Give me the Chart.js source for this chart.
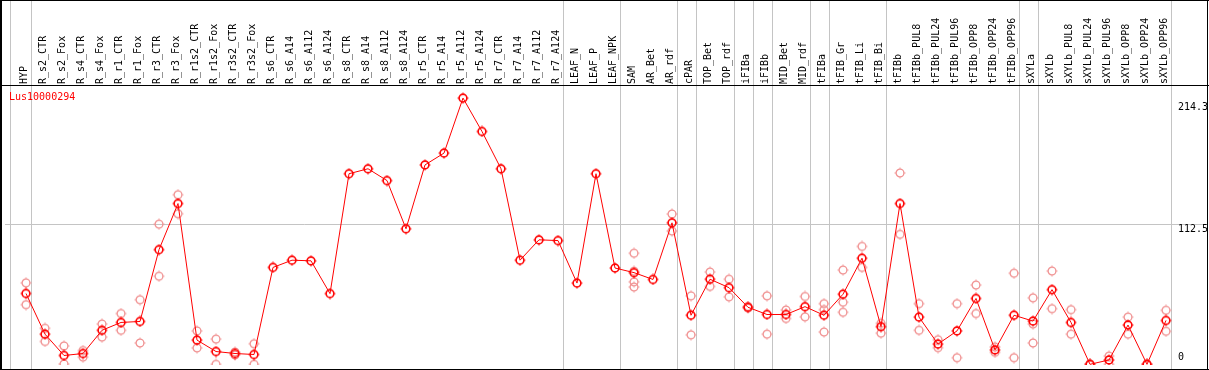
<!DOCTYPE html>
<html>
<head>
<meta charset="utf-8">
<script src="https://cdn.jsdelivr.net/npm/chart.js@4.4.1/dist/chart.umd.min.js"></script>
<style>
body{margin:0;background:#fff}
canvas{display:block}
</style>
</head>
<body>
<canvas id="geneChart" width="1209" height="370"></canvas>
<script>
// ------------------------------------
// DATA
// ------------------------------------

const geneName = "Lus10000294"

const samples = [
"HYP",
"R_s2_CTR","R_s2_Fox","R_s4_CTR","R_s4_Fox","R_r1_CTR","R_r1_Fox","R_r3_CTR","R_r3_Fox",
"R_r1s2_CTR","R_r1s2_Fox","R_r3s2_CTR","R_r3s2_Fox",
"R_s6_CTR","R_s6_A14","R_s6_A112","R_s6_A124","R_s8_CTR","R_s8_A14","R_s8_A112","R_s8_A124",
"R_r5_CTR","R_r5_A14","R_r5_A112","R_r5_A124","R_r7_CTR","R_r7_A14","R_r7_A112","R_r7_A124",
"LEAF_N","LEAF_P","LEAF_NPK",
"SAM","AR_Bet","AR_rdf",
"cPAR",
"TOP_Bet","TOP_rdf",
"iFIBa",
"iFIBb",
"MID_Bet","MID_rdf",
"tFIBa",
"tFIB_Gr","tFIB_Li","tFIB_Bi",
"tFIBb","tFIBb_PUL8","tFIBb_PUL24","tFIBb_PUL96","tFIBb_OPP8","tFIBb_OPP24","tFIBb_OPP96",
"sXYLa",
"sXYLb","sXYLb_PUL8","sXYLb_PUL24","sXYLb_PUL96","sXYLb_OPP8","sXYLb_OPP24","sXYLb_OPP96"
]

// mean per sample
const means = [
57,
24.3,7.1,8.7,27.4,33.7,34.5,92.3,129.4,
19.5,10.3,8.7,7.9,
78,83.8,83.3,56.9,153.4,157.4,147.9,109.1,
160.5,170,214.3,187.4,157.4,83.8,100.2,99.6,
65.4,153.4,77.5,
73.8,68.3,113.9,
39.5,
68.5,61.7,
45.9,
40.1,
40.1,46.4,
39.5,
56.4,85.4,30.3,
129.4,38,16.3,26.9,53,11.6,39.5,
34.8,
60.1,33.7,0,3.5,31.6,0,35.3
]

// single replicates (light points)
const reps = [
[65.6,48],
[29,18.4],[14.8,0.3],[11.1,5.8],[32.4,21.9],[40.9,27.4],[52,17.2],[112.8,70.9],[136.5,121.2],
[26.9,13.2],[20.3,0],[9.9,7.5],[16.6,0],
[],[],[],[],[],[],[],[],
[],[],[],[],[],[],[],[],
[],[],[],
[89.4,74.9,66.4,62.2],[],[121,107.3],
[55.1,23.7],
[74.3,62.7],[68.5,54.3],
[46.5,45.3],
[55.1,24.3],
[43.7,36.9],[54.6,38.2],
[48.8,44,26],
[75.9,50,41.9],[94.9,78],[33,25.1],
[154,104.6],[48.8,27.4],[19.8,13.4],[48.8,5.3],[63.8,40.9],[14,9.7],[73.3,5.3],
[53.5,32.4,17.2],
[75.1,44.8],[44,24.3],[0,0],[6.6,0],[38,24.3],[0,0],[43.5,26.6]
]

// how many samples sit in each tissue group (grey separators)
const groupSizes = [1,28,3,3,1,2,1,1,2,1,3,7,1,7]

const yTicks = [0,112.5,214.3]


// ------------------------------------
// BUILD POINTS
// ------------------------------------

const meanPoints = means.map((v,i)=>({x:i,y:v}))

let repPoints = []
reps.forEach((list,i)=>{
    list.forEach(v=>repPoints.push({x:i,y:v}))
})

// separators: one before the first sample, then after each group
let breaks = [-0.85]
let count = 0
groupSizes.forEach(n=>{
    count += n
    breaks.push(count - 1 + 0.25)
})


// ------------------------------------
// MARKERS (circle with little ticks)
// ------------------------------------

function makeMarker(color, lw){
    const c = document.createElement("canvas")
    c.width = 12
    c.height = 12
    const g = c.getContext("2d")
    g.strokeStyle = color
    g.lineWidth = lw
    g.beginPath()
    g.arc(6,6,3.9,0,Math.PI*2)
    g.stroke()
    g.lineWidth = 1
    g.beginPath()
    g.moveTo(6,0.5); g.lineTo(6,1.8)
    g.moveTo(6,10.2); g.lineTo(6,11.5)
    g.moveTo(0.5,6); g.lineTo(1.8,6)
    g.moveTo(10.2,6); g.lineTo(11.5,6)
    g.stroke()
    return c
}

const redMarker = makeMarker("#ff0000",1.6)
const pinkMarker = makeMarker("#f09090",1.3)


// ------------------------------------
// FRAME, SEPARATORS, LABELS
// ------------------------------------

const framePlugin = {
    id:"frame",
    beforeDatasetsDraw(chart){
        const ctx = chart.ctx
        const x = chart.scales.x
        ctx.save()
        ctx.strokeStyle = "#c4c4c4"
        ctx.lineWidth = 1
        breaks.forEach(b=>{
            const px = Math.round(x.getPixelForValue(b)) + 0.5
            ctx.beginPath()
            ctx.moveTo(px,0)
            ctx.lineTo(px,370)
            ctx.stroke()
        })
        ctx.restore()
    },
    afterDraw(chart){
        const ctx = chart.ctx
        const y = chart.scales.y
        ctx.save()
        ctx.fillStyle = "#000"
        ctx.fillRect(0,0,1209,1)
        ctx.fillRect(0,85,1209,1)
        ctx.fillRect(0,369,1209,1)
        ctx.fillRect(0,0,2,370)
        ctx.fillRect(1207,0,1,370)

        // value labels sit inside the plot on the right
        const shift = {"0":-7,"112.5":4.5,"214.3":9}
        ctx.font = "10px 'DejaVu Sans Mono'"
        ctx.textAlign = "left"
        ctx.textBaseline = "middle"
        yTicks.forEach(v=>{
            ctx.fillText(String(v),1178,y.getPixelForValue(v) + shift[String(v)])
        })

        ctx.fillStyle = "#ff0000"
        ctx.textBaseline = "top"
        ctx.fillText(geneName,9,92)
        ctx.restore()
    }
}


// ------------------------------------
// CHART
// ------------------------------------

// one sample every 19px, first one at x=26
const colStart = 26
const colStep = 19
const yMin = -0.55
const yMax = yMin + 285/1.2646

const chart = new Chart(document.getElementById("geneChart"),{
    type:"line",
    data:{
        datasets:[
            {
                type:"scatter",
                data:repPoints,
                pointStyle:pinkMarker,
                showLine:false,
                order:2
            },
            {
                data:meanPoints,
                borderColor:"#ff0000",
                borderWidth:1,
                pointStyle:redMarker,
                tension:0,
                fill:false,
                order:1
            }
        ]
    },
    options:{
        responsive:false,
        animation:false,
        devicePixelRatio:1,
        layout:{padding:0},
        plugins:{
            legend:{display:false},
            tooltip:{enabled:false}
        },
        scales:{
            x:{
                type:"linear",
                position:"top",
                min:-1,
                max:61,
                afterBuildTicks:s=>{ s.ticks = samples.map((_,i)=>({value:i})) },
                afterFit:s=>{ s.height = 85 },
                ticks:{
                    autoSkip:false,
                    minRotation:90,
                    maxRotation:90,
                    padding:-7,
                    labelOffset:10,
                    color:"#000",
                    font:{family:"DejaVu Sans Mono",size:10},
                    callback:v=>samples[v]
                },
                grid:{display:false},
                border:{display:false}
            },
            y:{
                position:"right",
                min:yMin,
                max:yMax,
                afterBuildTicks:s=>{ s.ticks = yTicks.map(v=>({value:v})) },
                afterFit:s=>{ s.width = 0 },
                ticks:{display:false},
                grid:{
                    drawTicks:false,
                    color:c=>(c.tick && c.tick.value === 112.5) ? "#c4c4c4" : "rgba(0,0,0,0)"
                },
                border:{display:false}
            }
        }
    },
    plugins:[framePlugin]
})

// fit the x range to the real plot area so the columns land on the 19px grid
const area = chart.chartArea
chart.options.scales.x.min = (area.left - colStart)/colStep
chart.options.scales.x.max = (area.right - colStart)/colStep
chart.update()
</script>
</body>
</html>
